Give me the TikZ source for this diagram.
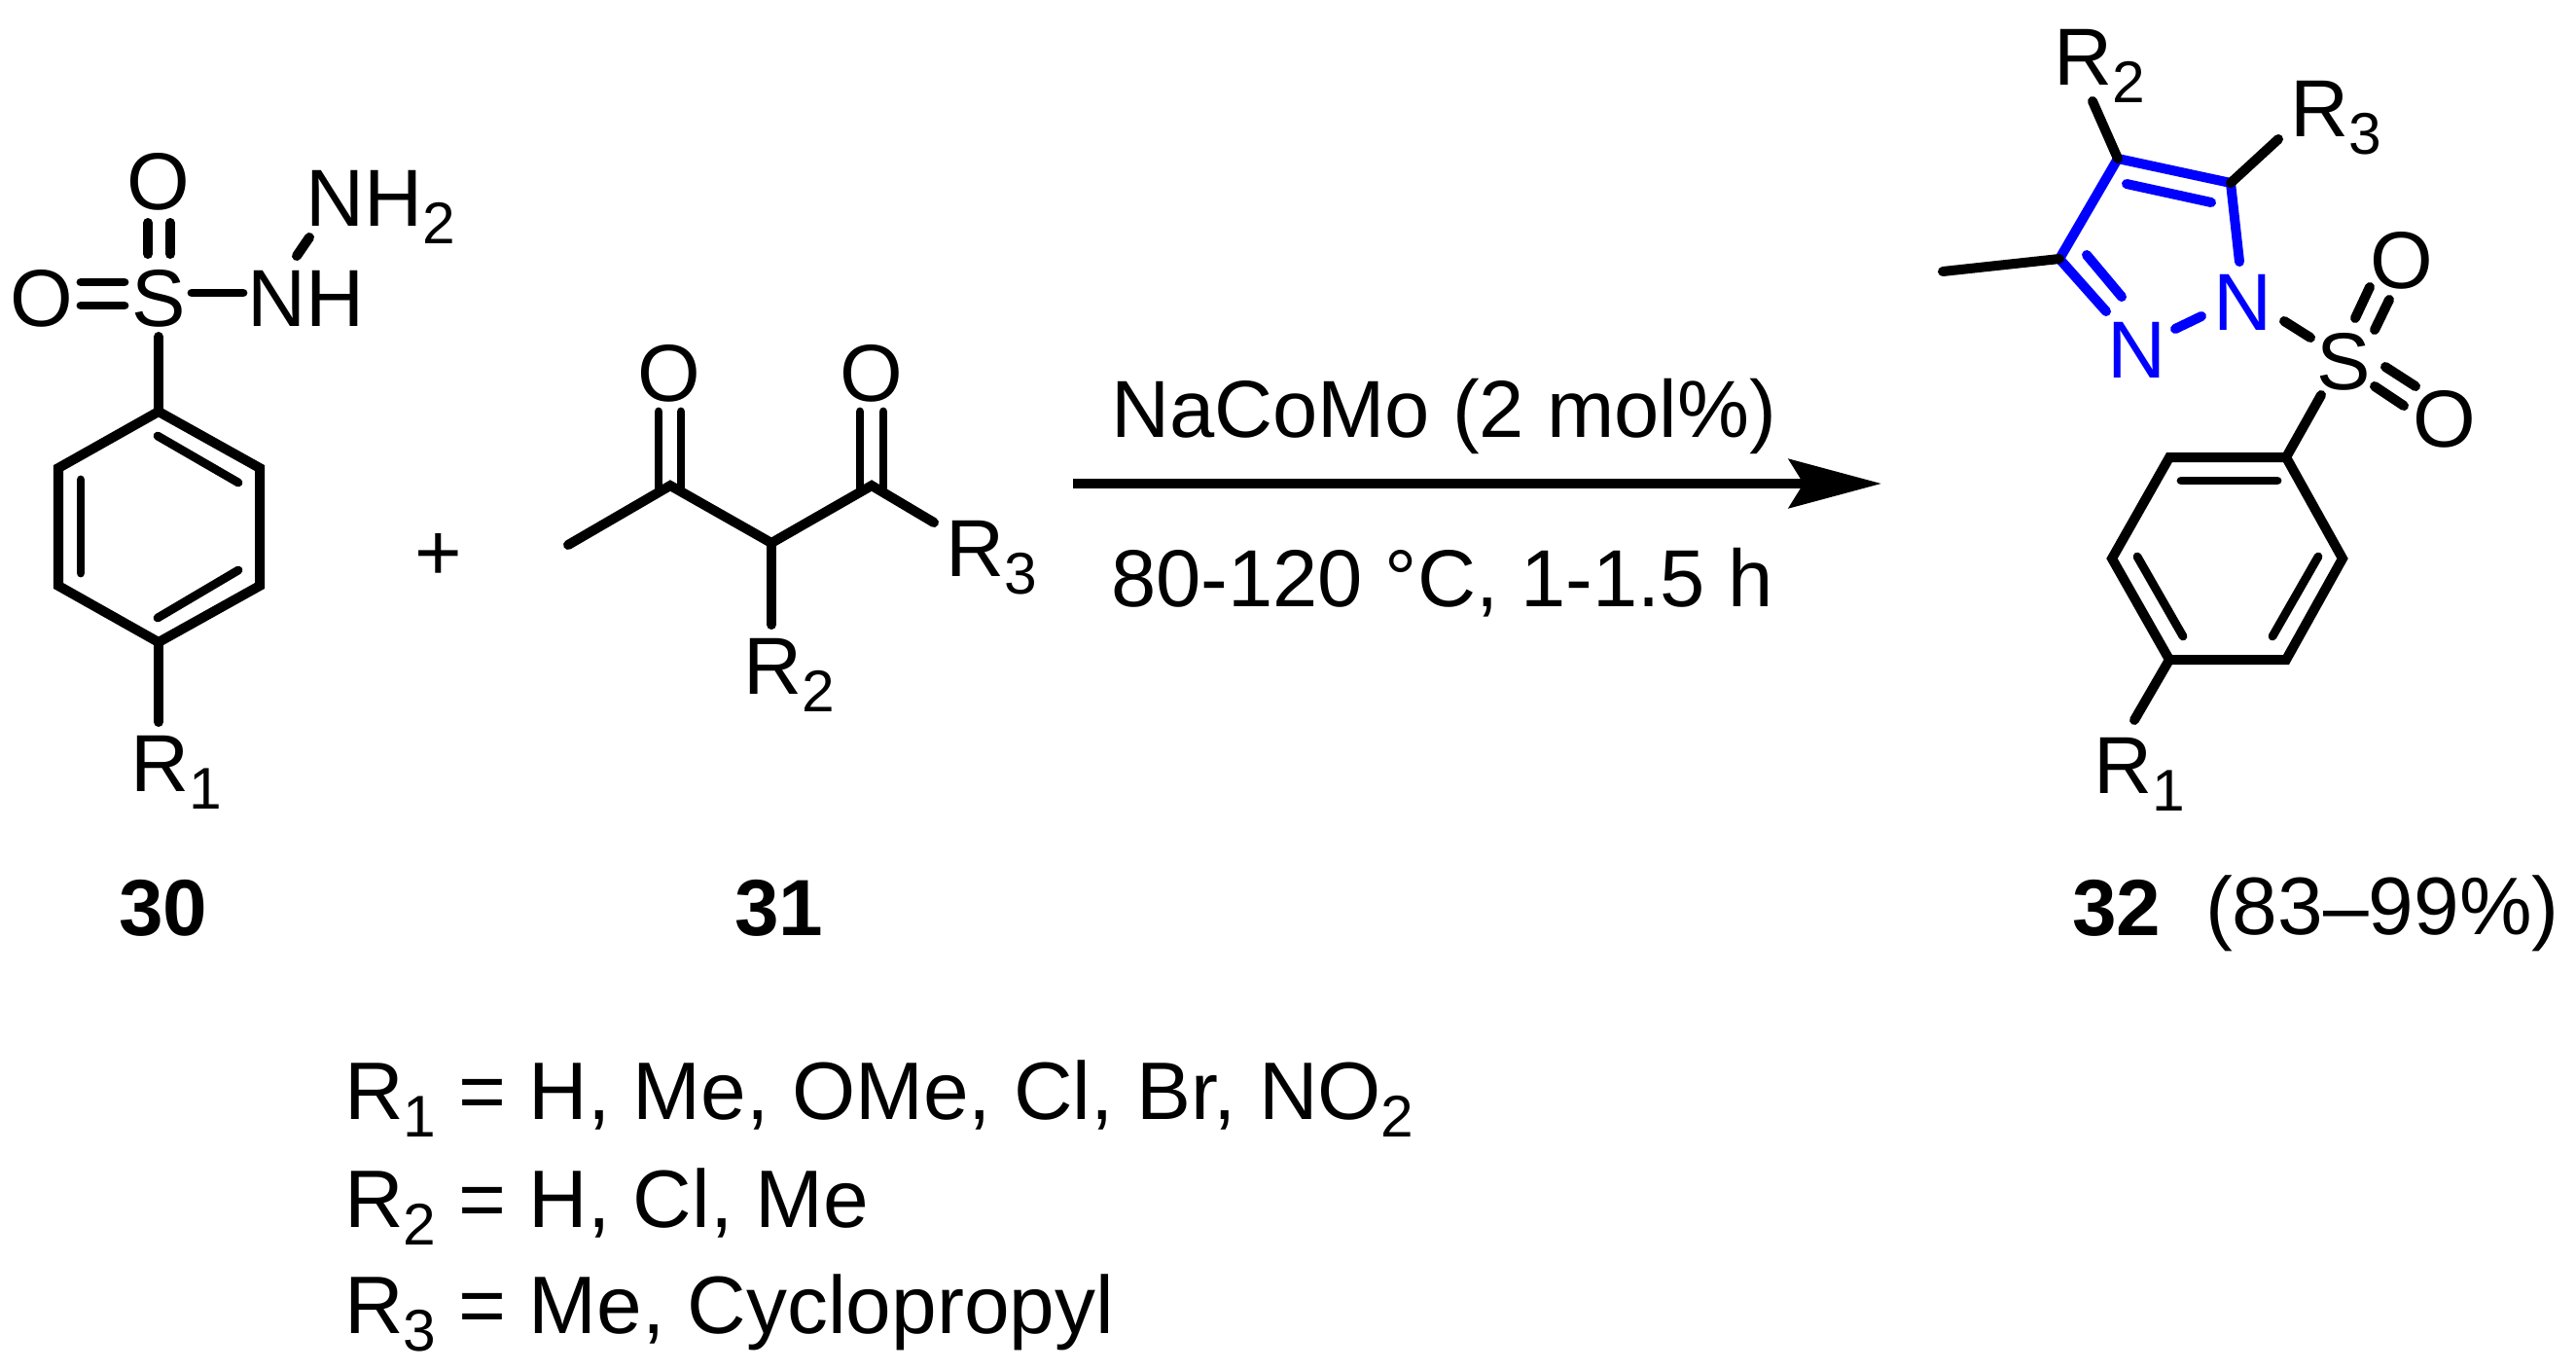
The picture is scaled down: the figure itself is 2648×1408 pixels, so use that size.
\documentclass[tikz,border=0pt]{standalone}
\usepackage{fontspec}
\setmainfont{Liberation Sans}
\usetikzlibrary{arrows.meta}
\definecolor{ringblue}{RGB}{0,0,255}
\newcommand{\subs}[1]{\raisebox{-0.225em}{\fontsize{17.2}{20}\selectfont #1}}
\tikzset{
  lbl/.style={inner sep=0pt,outer sep=0pt,font=\fontsize{23.65}{28}\selectfont},
  atomw/.style={lbl,anchor=base west},
  atomc/.style={lbl,anchor=base},
  listw/.style={atomw,font=\fontsize{23.85}{28}\selectfont},
  boldw/.style={atomw,font=\fontsize{23.3}{28}\selectfont\bfseries},
  bluelbl/.style={atomc,text=ringblue},
  bond/.style={line width=0.1cm,line cap=round,line join=miter,miter limit=10},
  thinbond/.style={bond,line width=0.088cm},
  bluebond/.style={bond,draw=ringblue},
  rxnarrow/.style={line width=0.1cm,-{Stealth[length=0.95cm,width=0.5cm,inset=0.15cm]}}
}
\begin{document}
\begin{tikzpicture}[x=0.01cm,y=-0.01cm]
\useasboundingbox (0,0) rectangle (2648,1408);
% ---------- compound 30 ----------
\node[atomc] (aOt) at (163,215) {O};
\node[atomc] (aOl) at (43,335) {O};
\node[atomc] (aS) at (163,335) {S};
\node[atomw] (aNH) at (254,335) {NH};
\node[atomw] (aNHH) at (314,232) {NH\subs{2}};
\node[atomw] (aR1) at (134,813) {R\subs{1}};
\coordinate (a1) at (163,423);
\coordinate (a2) at (267,481);
\coordinate (a3) at (267,602);
\coordinate (a4) at (163,660);
\coordinate (a5) at (60,602);
\coordinate (a6) at (60,481);
\draw[bond] (a1) -- (a2) -- (a3) -- (a4) -- (a5) -- (a6) -- cycle;
\coordinate (ai1) at (162,448); \coordinate (ai2) at (245,496);
\coordinate (ai3) at (245,586); \coordinate (ai4) at (162,635);
\coordinate (ai5) at (83,589);  \coordinate (ai6) at (83,493);
\draw[thinbond] (ai1) -- (ai2);
\draw[thinbond] (ai3) -- (ai4);
\draw[thinbond] (ai5) -- (ai6);
\coordinate (as1) at (163,346);
\draw[bond] (as1) -- (a1);
\coordinate (ar1) at (163,742);
\draw[bond] (a4) -- (ar1);
\coordinate (ad1) at (152,229); \coordinate (ad2) at (152,261);
\coordinate (ad3) at (175,229); \coordinate (ad4) at (175,261);
\draw[bond] (ad1) -- (ad2);
\draw[bond] (ad3) -- (ad4);
\coordinate (ad5) at (83,290); \coordinate (ad6) at (128,290);
\coordinate (ad7) at (83,314); \coordinate (ad8) at (128,314);
\draw[thinbond] (ad5) -- (ad6);
\draw[thinbond] (ad7) -- (ad8);
\coordinate (an1) at (197,301); \coordinate (an2) at (250,301);
\draw[thinbond] (an1) -- (an2);
\coordinate (an3) at (318,244); \coordinate (an4) at (305,263);
\draw[bond] (an3) -- (an4);
\node[atomc] (plus) at (451,596) {+};
\node[boldw] (n30) at (122,961) {30};
% ---------- compound 31 ----------
\node[atomc] (bO1) at (688,412) {O};
\node[atomc] (bO2) at (896,412) {O};
\node[atomw] (bR2) at (764,713) {R\subs{2}};
\node[atomw] (bR3) at (972,592) {R\subs{3}};
\coordinate (bMe) at (584,560);
\coordinate (bC1) at (689,499);
\coordinate (bCH) at (793,558);
\coordinate (bC2) at (896,499);
\coordinate (bEnd) at (960,537);
\draw[bond] (bMe) -- (bC1) -- (bCH) -- (bC2) -- (bEnd);
\coordinate (bDown) at (793,642);
\draw[bond] (bCH) -- (bDown);
\coordinate (bd1) at (677,423); \coordinate (bd2) at (677,503);
\coordinate (bd3) at (700,423); \coordinate (bd4) at (700,503);
\coordinate (bd5) at (884,423); \coordinate (bd6) at (884,503);
\coordinate (bd7) at (908,423); \coordinate (bd8) at (908,503);
\draw[thinbond] (bd1) -- (bd2);
\draw[thinbond] (bd3) -- (bd4);
\draw[thinbond] (bd5) -- (bd6);
\draw[thinbond] (bd7) -- (bd8);
\node[boldw] (n31) at (755,961) {31};
% ---------- arrow ----------
\coordinate (arS) at (1103,497);
\coordinate (arE) at (1934,497);
\draw[rxnarrow] (arS) -- (arE);
\node[atomw] (cond1) at (1142,449) {NaCoMo (2 mol\%)};
\node[atomw] (cond2) at (1142,623) {80-120 °C, 1-1.5 h};
% ---------- compound 32 ----------
\node[bluelbl] (cN1) at (2306,339) {N};
\node[bluelbl] (cN2) at (2197,388) {N};
\node[atomc] (cS) at (2409,400) {S};
\node[atomc] (cOt) at (2469,296) {O};
\node[atomc] (cOb) at (2513,459) {O};
\node[atomw] (cR2) at (2111,87) {R\subs{2}};
\node[atomw] (cR3) at (2354,140) {R\subs{3}};
\node[atomw] (cR1) at (2152,815) {R\subs{1}};
\coordinate (cC3) at (2117,266);
\coordinate (cC4) at (2177,163);
\coordinate (cC5) at (2293,188);
\coordinate (cN1e) at (2302,269);
\coordinate (cN2e) at (2165,320);
\draw[bluebond] (cN2e) -- (cC3) -- (cC4) -- (cC5) -- (cN1e);
\coordinate (ci1) at (2145,262); \coordinate (ci2) at (2181,305);
\draw[bluebond] (ci1) -- (ci2);
\coordinate (ci3) at (2186,189); \coordinate (ci4) at (2273,208);
\draw[bluebond] (ci3) -- (ci4);
\coordinate (cnn1) at (2236,338); \coordinate (cnn2) at (2263,325);
\draw[bluebond] (cnn1) -- (cnn2);
\coordinate (cMe) at (1997,279);
\draw[bond] (cMe) -- (cC3);
\coordinate (cb2) at (2151,104);
\draw[bond] (cb2) -- (cC4);
\coordinate (cb3) at (2342,143);
\draw[bond] (cb3) -- (cC5);
\coordinate (cns1) at (2348,330); \coordinate (cns2) at (2375,347);
\draw[bond] (cns1) -- (cns2);
\coordinate (cso1) at (2421,327); \coordinate (cso2) at (2436,295);
\coordinate (cso3) at (2441,339); \coordinate (cso4) at (2456,308);
\draw[bond] (cso1) -- (cso2);
\draw[bond] (cso3) -- (cso4);
\coordinate (cso5) at (2452,377); \coordinate (cso6) at (2483,397);
\coordinate (cso7) at (2441,397); \coordinate (cso8) at (2471,417);
\draw[bond] (cso5) -- (cso6);
\draw[bond] (cso7) -- (cso8);
\coordinate (c1) at (2350,470);
\coordinate (c2) at (2408,574);
\coordinate (c3) at (2350,678);
\coordinate (c4) at (2230,678);
\coordinate (c5) at (2171,574);
\coordinate (c6) at (2230,470);
\draw[bond] (c1) -- (c2) -- (c3) -- (c4) -- (c5) -- (c6) -- cycle;
\coordinate (cs1) at (2386,406);
\draw[bond] (cs1) -- (c1);
\coordinate (cr1) at (2194,740);
\draw[bond] (c4) -- (cr1);
\coordinate (cj1) at (2242,494); \coordinate (cj2) at (2341,494);
\coordinate (cj3) at (2383,572); \coordinate (cj4) at (2336,654);
\coordinate (cj5) at (2197,572); \coordinate (cj6) at (2244,654);
\draw[thinbond] (cj1) -- (cj2);
\draw[thinbond] (cj3) -- (cj4);
\draw[thinbond] (cj5) -- (cj6);
\node[boldw] (n32) at (2130,961) {32};
\node[listw] (yield) at (2267,960) {(83–99\%)};
% ---------- substituent list ----------
\node[listw] (l1) at (354,1150) {R\subs{1} = H, Me, OMe, Cl, Br, NO\subs{2}};
\node[listw] (l2) at (354,1261) {R\subs{2} = H, Cl, Me};
\node[listw] (l3) at (354,1370) {R\subs{3} = Me, Cyclopropyl};
\end{tikzpicture}
\end{document}
